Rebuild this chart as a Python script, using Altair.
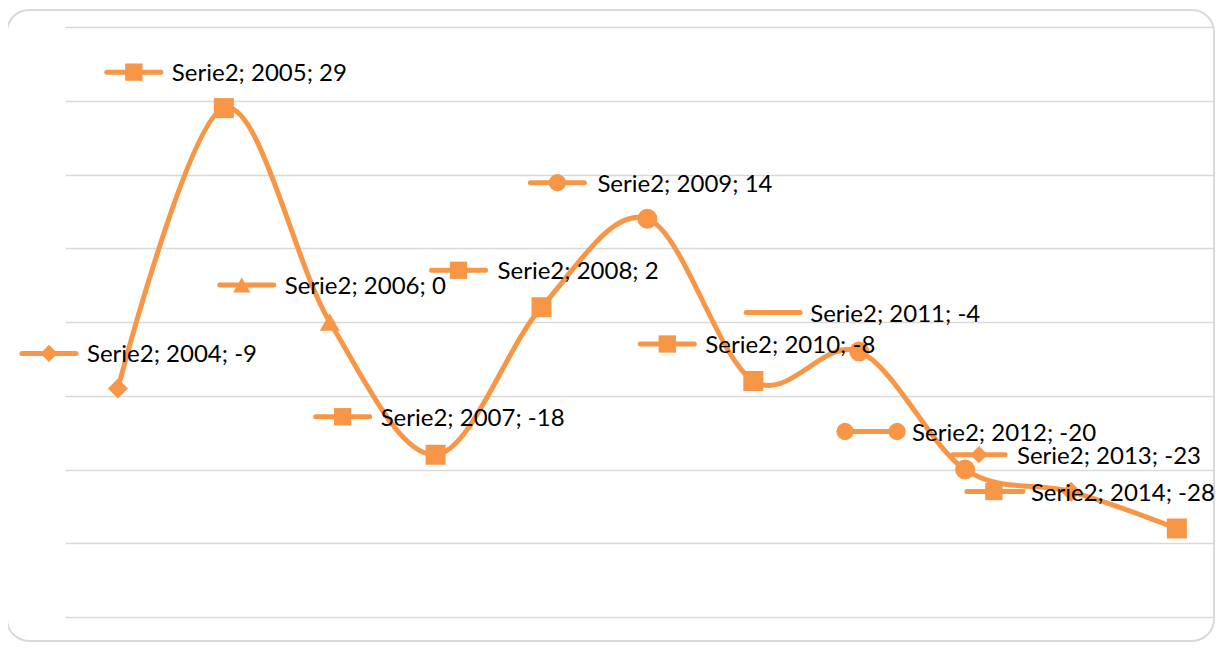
import altair as alt
import pandas as pd

# ---- data ----
series_name = "Serie2"
years = [2004, 2005, 2006, 2007, 2008, 2009, 2010, 2011, 2012, 2013, 2014]
values = [-9, 29, 0, -18, 2, 14, -8, -4, -20, -23, -28]
y_ticks = [-40, -30, -20, -10, 0, 10, 20, 30, 40]

# ---- styles ----
ORANGE = "#F79646"
GRID = "#d9d9d9"
markers = ["diamond", "square", "triangle-up", "square", "square", "circle",
           "square", "circle", "circle", "diamond", "square"]

# data-label layout, pixel offsets relative to each point
key_dx = [-69, -90, -83, -93, -83, -90, -86, -86, -94, -92, -182]
key_dy = [-35, -36, -37, -38, -37, -36, -37, -39, -38, -37, -37]
key_half = [27, 27, 27, 27, 27, 27, 27, 27, 26, 26, 28]
text_dx = [-31, -52, -45, -55, -44, -50, -48, -49, -53, -54, -146]
key_marks = [[0], [0], [-5], [0], [0], [0], [0], [], [-26, 26], [0], [-1]]

df = pd.DataFrame({"year": years, "value": values, "marker": markers})
df["label"] = [f"{series_name}; {y}; {v}" for y, v in zip(years, values)]

x_enc = alt.X("year:Q", scale=alt.Scale(domain=[2003.5, 2014.36], nice=False, zero=False), axis=None)
y_enc = alt.Y("value:Q", scale=alt.Scale(domain=[-40, 40], nice=False, zero=False),
              axis=alt.Axis(values=y_ticks, labels=False, ticks=False, domain=False,
                            grid=True, gridColor=GRID, gridWidth=1.5, title=None))

base = alt.Chart(df)

border = alt.Chart(pd.DataFrame({"a": [0]})).mark_rect(
    fillOpacity=0, stroke=GRID, strokeWidth=2, cornerRadius=22
).encode(x=alt.value(-58), x2=alt.value(1149), y=alt.value(-17), y2=alt.value(614))

line = base.mark_line(interpolate="cardinal", strokeWidth=5, color=ORANGE,
                      strokeJoin="round", strokeCap="round").encode(x=x_enc, y=y_enc)

points = base.mark_point(filled=True, size=400, opacity=1, color=ORANGE).encode(
    x="year:Q", y="value:Q", shape=alt.Shape("marker:N", scale=None))

layers = [border, line, points]
for i in range(len(years)):
    one = alt.Chart(df.iloc[[i]])
    kdx, kdy, h = key_dx[i], key_dy[i], key_half[i]
    layers.append(one.mark_rule(color=ORANGE, strokeWidth=5, strokeCap="round",
                                xOffset=kdx - h, x2Offset=kdx + h,
                                yOffset=kdy, y2Offset=kdy).encode(
        x="year:Q", x2="year:Q", y="value:Q"))
    for m in key_marks[i]:
        layers.append(one.mark_point(filled=True, size=300, opacity=1, color=ORANGE,
                                     xOffset=kdx + m, yOffset=kdy).encode(
            x="year:Q", y="value:Q", shape=alt.Shape("marker:N", scale=None)))
    layers.append(one.mark_text(align="left", baseline="alphabetic", font="Lato",
                                fontSize=24, color="#000000",
                                dx=text_dx[i], dy=kdy + 9).encode(
        x="year:Q", y="value:Q", text="label:N"))

chart = alt.layer(*layers).properties(
    width=1150, height=590,
    autosize=alt.AutoSizeParams(type="none"),
    padding={"left": 57, "top": 19, "right": 0, "bottom": 26},
    background="white",
).configure_view(stroke=None)

chart.save("out.html", embed_options={"renderer": "svg", "actions": False})
